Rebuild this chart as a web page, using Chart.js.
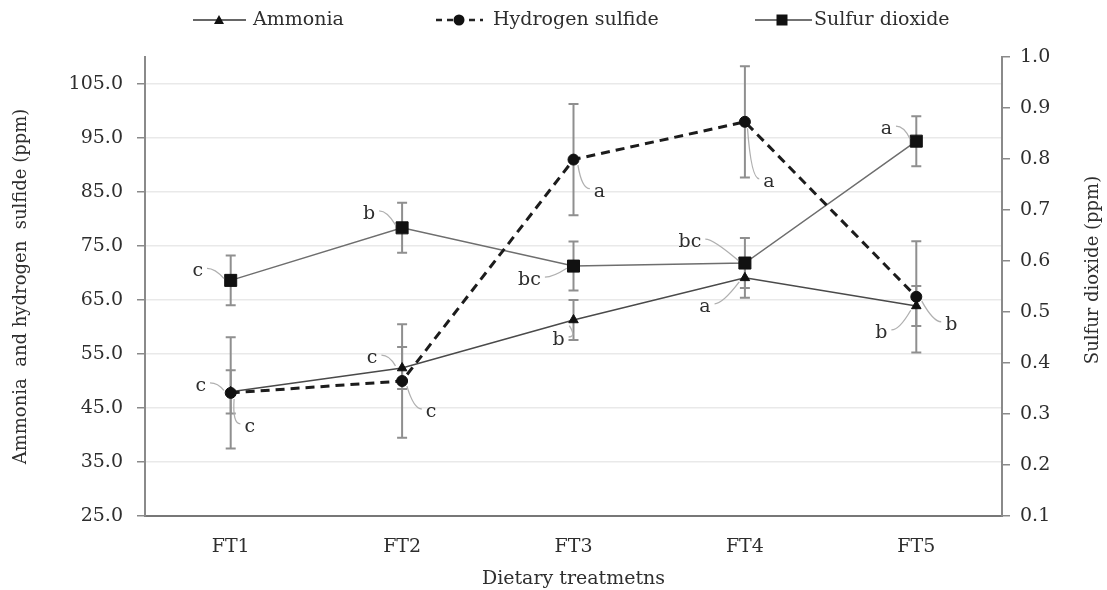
<!DOCTYPE html>
<html>
<head>
<meta charset="utf-8">
<script src="https://cdn.jsdelivr.net/npm/chart.js@4"></script>
<style>
  html, body { margin: 0; padding: 0; background: #fff; }
  #wrap { width: 1107px; height: 590px; }
</style>
</head>
<body>
<div id="wrap"><canvas id="gasChart"></canvas></div>
<script>
// ---- data ----
const treatments = ['FT1', 'FT2', 'FT3', 'FT4', 'FT5'];

const ammonia    = [48.0, 52.4, 61.3, 69.1, 63.9];
const ammoniaErr = [4.0, 3.9, 3.7, 3.7, 3.7];
const ammoniaSig = ['c', 'c', 'b', 'a', 'b'];

const h2s    = [47.8, 50.0, 91.0, 98.0, 65.6];
const h2sErr = [10.3, 10.5, 10.3, 10.3, 10.3];
const h2sSig = ['c', 'c', 'a', 'a', 'b'];

const so2    = [0.562, 0.665, 0.590, 0.596, 0.835];
const so2Err = [0.049, 0.049, 0.048, 0.049, 0.049];
const so2Sig = ['c', 'b', 'bc', 'bc', 'a'];

const leftTicks  = [25, 35, 45, 55, 65, 75, 85, 95, 105];
const rightTicks = [0.1, 0.2, 0.3, 0.4, 0.5, 0.6, 0.7, 0.8, 0.9, 1.0];

const FONT = "'DejaVu Serif', serif";
const TEXT = '#2e2e2e';
const AXIS = '#8a8a8a';

// where each significance letter sits relative to its point (px)
const letterOffsets = {
    'Ammonia':          [[-30, -6], [-30, -10], [-15, 20], [-40, 29], [-35, 27]],
    'Hydrogen sulfide': [[19, 34], [29, 31], [26, 32], [24, 60], [35, 28]],
    'Sulfur dioxide':   [[-33, -9], [-33, -14], [-44, 14], [-55, -21], [-30, -12]]
};

// vertical error bars with caps
const errorBars = {
    id: 'errorBars',
    beforeDatasetsDraw(chart) {
        const ctx = chart.ctx;
        const xs = chart.scales.x;
        ctx.save();
        ctx.strokeStyle = '#8f8f8f';
        ctx.lineWidth = 2;
        chart.data.datasets.forEach(ds => {
            const ys = chart.scales[ds.yAxisID];
            ds.errors.forEach((e, i) => {
                const px = xs.getPixelForValue(i);
                const top = ys.getPixelForValue(ds.data[i] + e);
                const bot = ys.getPixelForValue(ds.data[i] - e);
                ctx.beginPath();
                ctx.moveTo(px, top); ctx.lineTo(px, bot);
                ctx.moveTo(px - 5, top); ctx.lineTo(px + 5, top);
                ctx.moveTo(px - 5, bot); ctx.lineTo(px + 5, bot);
                ctx.stroke();
            });
        });
        ctx.restore();
    }
};

// significance letters with a small leader curve
const sigLetters = {
    id: 'sigLetters',
    afterDatasetsDraw(chart) {
        const ctx = chart.ctx;
        ctx.save();
        ctx.font = '19px ' + FONT;
        ctx.textAlign = 'center';
        ctx.textBaseline = 'middle';
        chart.data.datasets.forEach((ds, di) => {
            const meta = chart.getDatasetMeta(di);
            const offs = letterOffsets[ds.label];
            ds.letters.forEach((txt, i) => {
                const pt = meta.data[i];
                const lx = pt.x + offs[i][0];
                const ly = pt.y + offs[i][1];
                const sx = Math.sign(pt.x - lx) || 1;
                const w = ctx.measureText(txt).width / 2;
                const startX = lx + sx * (w + 4);
                const midX = startX + sx * 8;
                const ang = Math.atan2(ly - pt.y, lx - pt.x);
                const endX = pt.x + Math.cos(ang) * 7;
                const endY = pt.y + Math.sin(ang) * 7;
                ctx.strokeStyle = '#b0b0b0';
                ctx.lineWidth = 1.3;
                ctx.beginPath();
                ctx.moveTo(startX, ly - 3);
                ctx.quadraticCurveTo(midX, ly - 3, endX, endY);
                ctx.stroke();
                ctx.fillStyle = TEXT;
                ctx.fillText(txt, lx, ly);
            });
        });
        ctx.restore();
    }
};

// legend with line + marker samples, and the right-hand axis title
const extras = {
    id: 'extras',
    afterDraw(chart) {
        const ctx = chart.ctx;
        ctx.save();
        const y = 20;
        const items = [
            { x0: 193, x1: 246, mx: 219, text: 'Ammonia', tx: 253, dash: [], lw: 1.5, color: '#333', marker: 'triangle' },
            { x0: 436, x1: 483, mx: 459, text: 'Hydrogen sulfide', tx: 493, dash: [6, 5], lw: 2.5, color: '#222', marker: 'circle' },
            { x0: 755, x1: 812, mx: 782, text: 'Sulfur dioxide', tx: 814, dash: [], lw: 1.5, color: '#444', marker: 'rect' }
        ];
        items.forEach(it => {
            ctx.strokeStyle = it.color;
            ctx.lineWidth = it.lw;
            ctx.setLineDash(it.dash);
            ctx.beginPath();
            ctx.moveTo(it.x0, y); ctx.lineTo(it.x1, y);
            ctx.stroke();
            ctx.setLineDash([]);
            ctx.fillStyle = '#111';
            ctx.beginPath();
            if (it.marker === 'triangle') {
                ctx.moveTo(it.mx, y - 5); ctx.lineTo(it.mx + 5, y + 4); ctx.lineTo(it.mx - 5, y + 4);
                ctx.closePath();
            } else if (it.marker === 'circle') {
                ctx.arc(it.mx, y, 5.5, 0, Math.PI * 2);
            } else {
                ctx.rect(it.mx - 5.5, y - 5.5, 11, 11);
            }
            ctx.fill();
            ctx.fillStyle = TEXT;
            ctx.font = '19px ' + FONT;
            ctx.textAlign = 'left';
            ctx.textBaseline = 'middle';
            ctx.fillText(it.text, it.tx, y);
        });

        ctx.translate(1093, 270);
        ctx.rotate(-Math.PI / 2);
        ctx.textAlign = 'center';
        ctx.textBaseline = 'middle';
        ctx.font = '18px ' + FONT;
        ctx.fillText('Sulfur dioxide (ppm)', 0, 0);
        ctx.restore();
    }
};

function initGasChart() {
    const ctx = document.getElementById('gasChart');

    new Chart(ctx, {
        type: 'line',
        data: {
            labels: treatments,
            datasets: [
                {
                    label: 'Ammonia',
                    data: ammonia,
                    errors: ammoniaErr,
                    letters: ammoniaSig,
                    yAxisID: 'y',
                    borderColor: '#4a4a4a',
                    borderWidth: 1.5,
                    pointStyle: 'triangle',
                    pointRadius: 5.5,
                    pointBorderWidth: 1,
                    pointBackgroundColor: '#111',
                    pointBorderColor: '#111',
                    tension: 0,
                    order: 1
                },
                {
                    label: 'Hydrogen sulfide',
                    data: h2s,
                    errors: h2sErr,
                    letters: h2sSig,
                    yAxisID: 'y',
                    borderColor: '#1c1c1c',
                    borderWidth: 3,
                    borderDash: [9, 6],
                    pointStyle: 'circle',
                    pointRadius: 5.5,
                    pointBorderWidth: 1,
                    pointBackgroundColor: '#111',
                    pointBorderColor: '#111',
                    tension: 0,
                    order: 0
                },
                {
                    label: 'Sulfur dioxide',
                    data: so2,
                    errors: so2Err,
                    letters: so2Sig,
                    yAxisID: 'y2',
                    borderColor: '#6e6e6e',
                    borderWidth: 1.5,
                    pointStyle: 'rect',
                    pointRadius: 8.5,
                    pointBorderWidth: 1,
                    pointBackgroundColor: '#111',
                    pointBorderColor: '#111',
                    tension: 0,
                    order: 2
                }
            ]
        },
        options: {
            responsive: true,
            maintainAspectRatio: false,
            animation: false,
            layout: { padding: { top: 57, left: 0, right: 0, bottom: 0 } },
            scales: {
                x: {
                    offset: true,
                    grid: { display: false },
                    border: { display: true, color: '#777', width: 2 },
                    ticks: { color: TEXT, font: { family: FONT, size: 19 }, padding: 12 },
                    title: {
                        display: true,
                        text: 'Dietary treatmetns',
                        color: TEXT,
                        font: { family: FONT, size: 19 },
                        padding: { top: 0, bottom: 0 }
                    },
                    afterFit: scale => { scale.height = 74; }
                },
                y: {
                    position: 'left',
                    min: 25,
                    max: 110,
                    afterBuildTicks: scale => { scale.ticks = leftTicks.map(v => ({ value: v })); },
                    ticks: {
                        color: TEXT,
                        font: { family: FONT, size: 19 },
                        padding: 14,
                        callback: v => v.toFixed(1)
                    },
                    grid: { color: '#e9e9e9', lineWidth: 1.5, tickLength: 8, tickColor: AXIS },
                    border: { color: AXIS, width: 2 },
                    title: {
                        display: true,
                        text: 'Ammonia  and hydrogen  sulfide (ppm)',
                        color: TEXT,
                        font: { family: FONT, size: 18 },
                        padding: { top: 11, bottom: 0 }
                    },
                    afterFit: scale => { scale.width = 145; }
                },
                y2: {
                    position: 'right',
                    min: 0.1,
                    max: 1.0,
                    afterBuildTicks: scale => { scale.ticks = rightTicks.map(v => ({ value: v })); },
                    ticks: {
                        color: TEXT,
                        font: { family: FONT, size: 19 },
                        padding: 10,
                        callback: v => v.toFixed(1)
                    },
                    grid: { drawOnChartArea: false, tickLength: 8, tickColor: AXIS, lineWidth: 1.5 },
                    border: { color: AXIS, width: 2 },
                    afterFit: scale => { scale.width = 105; }
                }
            },
            plugins: {
                legend: { display: false },
                tooltip: { enabled: false }
            }
        },
        plugins: [errorBars, sigLetters, extras]
    });
}

initGasChart();
</script>
</body>
</html>
